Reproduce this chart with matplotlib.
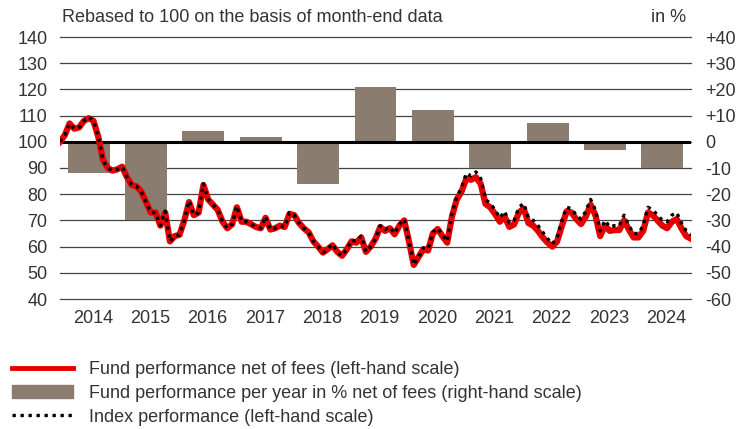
import numpy as np
import matplotlib
matplotlib.use("Agg")
import matplotlib.pyplot as plt
from matplotlib.lines import Line2D
from matplotlib.patches import Patch

plt.rcParams["font.family"] = ["Liberation Sans", "DejaVu Sans"]

# month-end values, Dec 2013 .. Dec 2024, rebased to 100
fund = [100, 102.5, 107, 105, 105.5, 108, 109, 108, 102, 93, 90, 89,
        89.5, 90.5, 86.5, 83.5, 83, 81, 77, 73, 73, 68, 73, 62,
        64, 64.5, 70, 77, 72, 73, 83.5, 78, 76, 74, 69.5, 67,
        68.5, 75, 69.5, 69.5, 68.5, 67.5, 67, 71, 66.5, 67, 68, 67.5,
        72.5, 72, 69, 67, 65.5, 62, 60, 57.7, 59, 60.5, 58, 56.5,
        59, 62, 61.5, 63.5, 58, 60, 63, 67.5, 66, 67, 64.7, 68,
        70, 62, 53, 56, 59, 58.5, 65, 66.7, 64, 61.5, 71.5, 78,
        81, 86, 85.5, 86.5, 84, 76.3, 75, 72.5, 69.5, 71.5, 67.5, 68.5,
        73, 74.5, 69, 68, 66, 63.5, 61.5, 60, 62, 68, 73.5, 73,
        70.5, 68.6, 71.5, 76, 72, 64, 68, 66, 66.3, 66.3, 70, 66.5,
        63.5, 63.5, 66, 73, 72, 70, 68, 67, 69.5, 70.5, 67, 64,
        63]
index = [100, 102.5, 107, 105, 105.5, 108, 109.5, 108, 102, 93, 90, 89,
         89.5, 90.5, 86.5, 83.5, 83, 81, 77, 73, 73, 68, 73.5, 62,
         64, 64.5, 70, 77.5, 72, 73, 84, 78, 76, 74, 69.5, 67,
         68.5, 75.5, 69.5, 69.5, 68.5, 67.5, 67, 71.5, 66.5, 67, 68, 67.5,
         73, 72, 69, 67, 65.5, 62, 60, 57.7, 59, 61, 58, 56.5,
         59, 62.5, 62, 64, 58, 60, 63, 68, 66.5, 67.5, 65, 68.5,
         70.5, 62, 53, 56, 59.5, 59, 65.5, 67, 64.5, 62, 72.5, 79,
         82.5, 88, 87, 88.5, 86, 78, 76.5, 74, 71, 73.5, 69, 70,
         75, 76.5, 71, 70, 68, 65.5, 63, 61, 63.5, 70, 75, 74.5,
         72, 70.5, 73.5, 78, 74, 66, 70, 67.5, 68, 68, 72, 68,
         65, 65, 68, 75, 74, 72, 70, 69.5, 72, 73, 69, 66,
         64.5]

years = [2014, 2015, 2016, 2017, 2018, 2019, 2020, 2021, 2022, 2023, 2024]
yearly = [-12, -30, 4, 2, -16, 21, 12, -10, 7, -3, -10]

left_ticks = [40, 50, 60, 70, 80, 90, 100, 110, 120, 130, 140]
right_ticks = [-60, -50, -40, -30, -20, -10, 0, 10, 20, 30, 40]
right_labels = ["-60", "-50", "-40", "-30", "-20", "-10", "0",
                "+10", "+20", "+30", "+40"]

RED = "#e60000"
TAUPE = "#8a7d70"
TXT = "#333333"
GRID = "#444444"
FS = 13

fig = plt.figure(figsize=(7.44, 4.29), dpi=100)
ax2 = fig.add_axes([60 / 744, 1 - 299 / 429, 631 / 744, 262 / 429])
ax = ax2.twinx()
ax.set_zorder(ax2.get_zorder() + 1)
ax.patch.set_visible(False)

# yearly bars on the right-hand scale
ax2.bar(np.array(years) + 0.5, yearly, width=0.73, color=TAUPE, zorder=2)
ax2.set_ylim(-60, 40)
ax2.set_yticks(right_ticks)
ax2.set_yticklabels(right_labels)
for t in right_ticks:
    ax2.axhline(t, color=GRID, lw=0.9, zorder=1, clip_on=False)
ax2.yaxis.tick_right()
ax2.set_xlim(2014, 2025)
ax2.set_xticks(np.array(years) + 0.57)
ax2.set_xticklabels([str(y) for y in years])

# monthly lines on the left-hand scale
x = 2014 + np.arange(len(fund)) / 12
ax.axhline(100, color="black", lw=2.2, zorder=3)
ax.plot(x, fund, color=RED, lw=4.5, solid_joinstyle="round", zorder=4)
ax.plot(x, index, color="black", lw=2.4, ls=(0, (1, 1.4)), zorder=5)
ax.set_ylim(40, 140)
ax.set_yticks(left_ticks)
ax.yaxis.tick_left()

for a in (ax, ax2):
    for s in a.spines.values():
        s.set_visible(False)
    a.tick_params(length=0, labelsize=FS, colors=TXT)
ax.tick_params(axis="y", pad=9)
ax2.tick_params(axis="y", pad=10)
ax2.tick_params(axis="x", pad=8)

fig.text(62 / 744, 1 - 18 / 429, "Rebased to 100 on the basis of month-end data",
         fontsize=FS, color=TXT, va="center", ha="left")
fig.text(686 / 744, 1 - 18 / 429, "in %", fontsize=FS, color=TXT,
         va="center", ha="right")

handles = [Line2D([], [], color=RED, lw=3.5),
           Patch(color=TAUPE),
           Line2D([], [], color="black", lw=2.4, ls=(0, (1, 1.4)))]
labels = ["Fund performance net of fees (left-hand scale)",
          "Fund performance per year in % net of fees (right-hand scale)",
          "Index performance (left-hand scale)"]
fig.legend(handles, labels, loc="upper left", bbox_to_anchor=(12 / 744, 1 - 361 / 429),
           frameon=False, fontsize=FS, handlelength=3.4, handletextpad=0.85,
           labelspacing=0.38, borderpad=0, borderaxespad=0, labelcolor=TXT)

fig.savefig("out.png", dpi=100)
